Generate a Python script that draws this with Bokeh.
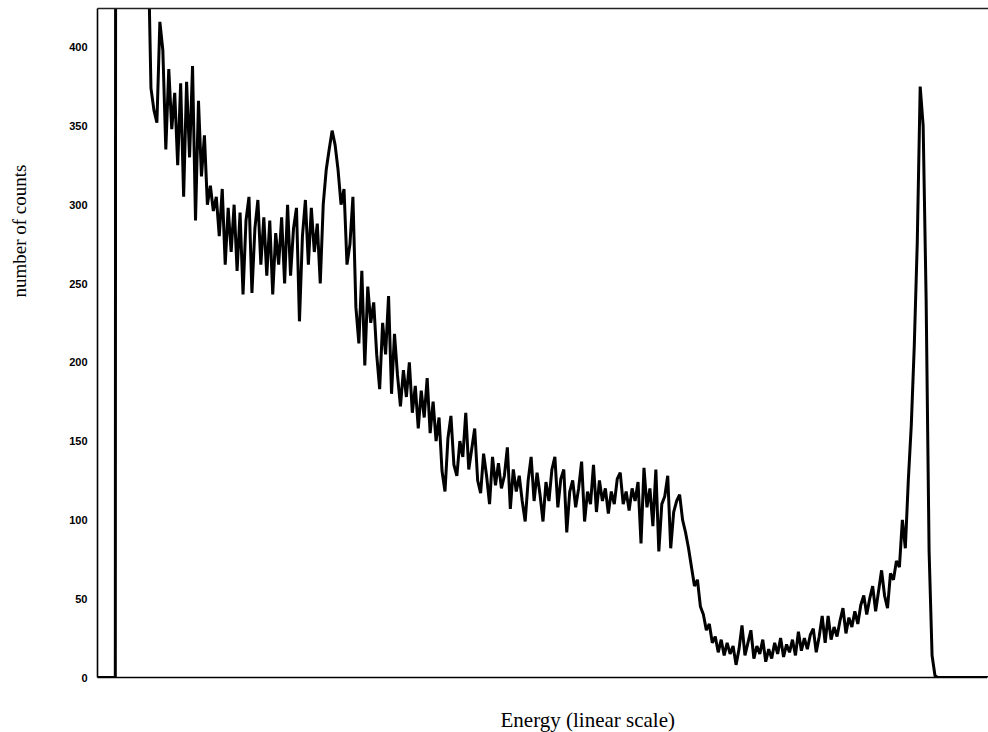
from bokeh.plotting import figure
from bokeh.models import FixedTicker, LinearAxis, Title, Range1d
from bokeh.embed import file_html
from bokeh.resources import INLINE

# ---- data ----
counts = [
    0, 0, 0, 0, 0, 0, 0,
    4800, 3900, 3100, 2500, 2000, 1600, 1250, 980, 760, 600, 470,
    374, 360, 352, 416, 398, 335, 386, 348, 371, 325, 377, 305,
    378, 330, 388, 290, 366, 318, 344, 300, 312, 296,
    305, 280, 310, 262, 298, 270, 300, 258, 295, 243,
    290, 305, 244, 285, 303, 262, 292, 255, 290, 243,
    282, 262, 292, 250, 300, 255, 285, 298, 226, 280,
    303, 262, 298, 270, 288, 250, 300, 322, 335, 347,
    338, 322, 300, 310, 262, 275, 305, 235, 212, 258,
    198, 248, 225, 238, 205, 183, 225, 205, 242, 180,
    218, 192, 172, 195, 178, 200, 168, 185, 158, 182,
    165, 190, 155, 175, 150, 165, 131, 118, 152, 166,
    135, 128, 150, 140, 168, 132, 145, 158, 125, 117,
    142, 128, 110, 140, 122, 136, 120, 128, 146, 107,
    132, 118, 128, 112, 99, 125, 140, 112, 130, 116,
    99, 124, 112, 132, 140, 108, 126, 132, 92, 118,
    125, 108, 120, 137, 99, 118, 110, 135, 105, 125,
    112, 120, 104, 118, 110, 126, 130, 110, 118, 106,
    120, 112, 124, 85, 133, 108, 120, 96, 132, 80,
    110, 115, 128, 82, 105, 112, 116, 100, 92, 82,
    70, 58, 62, 45, 40, 30, 34, 22, 26, 16,
    24, 14, 22, 15, 20, 8, 18, 33, 14, 22,
    30, 12, 20, 15, 24, 10, 18, 12, 22, 15,
    25, 13, 21, 16, 24, 14, 29, 17, 25, 18,
    27, 31, 16, 26, 39, 22, 39, 24, 32, 26,
    36, 44, 28, 38, 32, 42, 34, 46, 52, 40,
    50, 58, 42, 55, 68, 52, 44, 66, 62, 74,
    70, 100, 82, 125, 160, 210, 275, 375, 350, 240,
    80, 14, 1, 0, 0, 0, 0, 0, 0, 0,
    0, 0, 0, 0, 0, 0, 0, 0, 0, 0, 0,
]
channels = list(range(len(counts)))
y_ticks = [0, 50, 100, 150, 200, 250, 300, 350, 400]
x_title = "Energy (linear scale)"
y_title = "number of counts"

p = figure(width=988, height=732, output_backend="svg", toolbar_location=None,
           x_range=Range1d(0, 300), y_range=Range1d(0, 424.5),
           min_border_left=97, min_border_right=0, min_border_top=8,
           min_border_bottom=55)
p.outline_line_color = None
p.grid.visible = False
p.background_fill_color = "white"
p.border_fill_color = "white"

p.line(channels, counts, line_color="black", line_width=3)

# left axis
p.yaxis.ticker = FixedTicker(ticks=y_ticks)
p.yaxis.major_tick_line_color = None
p.yaxis.minor_tick_line_color = None
p.yaxis.major_tick_out = 0
p.yaxis.major_label_standoff = 10
p.yaxis.major_label_text_font = "Liberation Sans"
p.yaxis.major_label_text_font_size = "11px"
p.yaxis.major_label_text_font_style = "bold"
p.yaxis.major_label_text_color = "black"
p.yaxis.axis_line_width = 1.6
p.yaxis.axis_line_color = "black"

# bottom axis: line only; one white, unlabeled tick at the far right edge
# reserves room so the title sits lower
p.xaxis.ticker = FixedTicker(ticks=[299.5])
p.xaxis.major_label_overrides = {299.5: ""}
p.xaxis.major_label_text_font_size = "0px"
p.xaxis.major_tick_line_color = "white"
p.xaxis.minor_tick_line_color = None
p.xaxis.major_tick_out = 28
p.xaxis.major_tick_in = 0
p.xaxis.major_label_standoff = 0
p.xaxis.axis_line_width = 1.6
p.xaxis.axis_line_color = "black"

# top border line
top = LinearAxis(ticker=FixedTicker(ticks=[]), major_label_text_font_size="0px",
                 major_tick_line_color=None, minor_tick_line_color=None,
                 major_tick_out=0, major_label_standoff=0, axis_line_width=1.3,
                 axis_line_color="#222222")
p.add_layout(top, "above")

# blank left axis used only as spacing before the y title
spacer = LinearAxis(ticker=FixedTicker(ticks=[424]), major_label_overrides={424: ""},
                    major_label_text_font_size="0px",
                    major_tick_line_color="white", minor_tick_line_color=None,
                    axis_line_color=None, major_tick_out=37, major_tick_in=0,
                    major_label_standoff=0)
p.add_layout(spacer, "left")

p.add_layout(Title(text=x_title, text_font="Liberation Serif",
                   text_font_size="21px", text_font_style="normal",
                   align="left", offset=403, standoff=0,
                   text_color="black"), "below")
p.add_layout(Title(text=y_title, text_font="Liberation Serif",
                   text_font_size="19px", text_font_style="normal",
                   align="left", offset=380, standoff=0,
                   text_color="black"), "left")

open("out.html", "w").write(file_html(p, INLINE))
